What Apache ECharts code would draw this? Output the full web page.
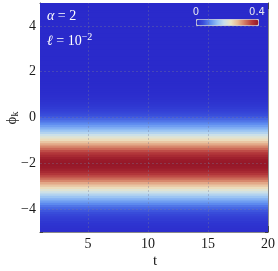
<!DOCTYPE html>
<html>
<head>
<meta charset="utf-8">
<script src="https://cdn.jsdelivr.net/npm/echarts@6/dist/echarts.min.js"></script>
<style>
html,body{margin:0;padding:0;background:#fff;}
#c{width:278px;height:271px;}
</style>
</head>
<body>
<div id="c"></div>
<script>
// ---- data ----
const tRange = [1, 20];
const phi = [-4.95,-4.85,-4.75,-4.65,-4.55,-4.45,-4.35,-4.25,-4.15,-4.05,
  -3.95,-3.85,-3.75,-3.65,-3.55,-3.45,-3.35,-3.25,-3.15,-3.05,
  -2.95,-2.85,-2.75,-2.65,-2.55,-2.45,-2.35,-2.25,-2.15,-2.05,
  -1.95,-1.85,-1.75,-1.65,-1.55,-1.45,-1.35,-1.25,-1.15,-1.05,
  -0.95,-0.85,-0.75,-0.65,-0.55,-0.45,-0.35,-0.25,-0.15,-0.05,
  0.05,0.15,0.25,0.35,0.45,0.55,0.65,0.75,0.85,0.95,
  1.05,1.15,1.25,1.35,1.45,1.55,1.65,1.75,1.85,1.95,
  2.05,2.15,2.25,2.35,2.45,2.55,2.65,2.75,2.85,2.95,
  3.05,3.15,3.25,3.35,3.45,3.55,3.65,3.75,3.85,3.95,
  4.05,4.15,4.25,4.35,4.45,4.55,4.65,4.75,4.85,4.95];
const density = [0.005,0.007,0.009,0.012,0.015,0.020,0.025,0.032,0.040,0.049,
  0.060,0.072,0.086,0.102,0.120,0.139,0.160,0.183,0.206,0.230,
  0.254,0.278,0.301,0.323,0.343,0.361,0.375,0.387,0.395,0.398,
  0.398,0.395,0.387,0.375,0.361,0.343,0.323,0.301,0.278,0.254,
  0.230,0.206,0.183,0.160,0.139,0.120,0.102,0.086,0.072,0.060,
  0.049,0.040,0.032,0.025,0.020,0.015,0.012,0.009,0.007,0.005,
  0.004,0.003,0.002,0.0015,0.001,0.0007,0.0005,0.0003,0.0002,0.0001,
  0,0,0,0,0,0,0,0,0,0,
  0,0,0,0,0,0,0,0,0,0,
  0,0,0,0,0,0,0,0,0,0];
const colorRange = [0, 0.4];
const xMajor = [5, 10, 15, 20];
const xMinor = [1,2,3,4,5,6,7,8,9,10,11,12,13,14,15,16,17,18,19,20];
const yMajor = [-4, -2, 0, 2, 4];
const yMinor = [-5,-4.5,-4,-3.5,-3,-2.5,-2,-1.5,-1,-0.5,0,0.5,1,1.5,2,2.5,3,3.5,4,4.5,5];
const xGrid = [5, 10, 15];
const yGrid = [-4, -2, 0, 2, 4];

// ---- chart ----
const chart = echarts.init(document.getElementById('c'), null, {renderer: 'canvas'});
const bandHalf = (phi[1] - phi[0]) / 2;
const serif = 'Liberation Serif';
const fmtNum = v => (v < 0 ? '\u2212' + (-v) : String(v));

function xAx(pos, ticks, len, labels) {
  return {
    type: 'value', min: tRange[0], max: tRange[1], position: pos, gridIndex: 0,
    axisLine: {show: true, onZero: false, lineStyle: {color: '#8a8a8a', width: 1}},
    axisTick: {show: true, inside: true, length: len, customValues: ticks, lineStyle: {color: '#444', width: 1}},
    axisLabel: labels ? {show: true, customValues: ticks, margin: 5, color: '#1a1a1a', fontFamily: serif, fontSize: 14, formatter: fmtNum}
                      : {show: false},
    splitLine: {show: false}
  };
}
function yAx(pos, ticks, len, labels) {
  return {
    type: 'value', min: -5, max: 5, position: pos, gridIndex: 0,
    axisLine: {show: true, onZero: false, lineStyle: {color: '#8a8a8a', width: 1}},
    axisTick: {show: true, inside: true, length: len, customValues: ticks, lineStyle: {color: '#444', width: 1}},
    axisLabel: labels ? {show: true, customValues: ticks, margin: 4, color: '#1a1a1a', fontFamily: serif, fontSize: 14, formatter: fmtNum}
                      : {show: false},
    splitLine: {show: false}
  };
}

const option = {
  animation: false,
  backgroundColor: '#fff',
  grid: {left: 40, top: 3, width: 229, height: 229},
  xAxis: [
    xAx('bottom', xMajor, 6, true),
    xAx('bottom', xMinor, 3, false),
    xAx('top', xMajor, 6, false),
    xAx('top', xMinor, 3, false)
  ],
  yAxis: [
    yAx('left', yMajor, 6, true),
    yAx('left', yMinor, 3, false),
    yAx('right', yMajor, 6, false),
    yAx('right', yMinor, 3, false)
  ],
  visualMap: {
    type: 'continuous', show: true, dimension: 3,
    min: colorRange[0], max: colorRange[1],
    orient: 'horizontal', left: 196, top: 19,
    itemWidth: 6, itemHeight: 62, calculable: false, text: null,
    padding: 0, borderColor: '#c8c8d8', borderWidth: 1,
    showLabel: false,
    inRange: {color: ['#2a2acb','#3a50dc','#5f8ef0','#94c0f4','#c8e0ec','#ece4c4','#e8b894','#d27a62','#b63a3c','#951628']}
  },
  series: [{
    type: 'custom',
    coordinateSystem: 'cartesian2d',
    xAxisIndex: 0, yAxisIndex: 0,
    clip: true,
    encode: {x: [0, 1], y: 2},
    data: phi.map((p, i) => [tRange[0], tRange[1], p, density[i]]),
    renderItem: function (params, api) {
      const a = api.coord([api.value(0), api.value(2) + bandHalf]);
      const b = api.coord([api.value(1), api.value(2) - bandHalf]);
      return {
        type: 'rect',
        shape: {x: a[0], y: a[1] - 0.5, width: b[0] - a[0], height: b[1] - a[1] + 1},
        style: {fill: api.visual('color')}
      };
    },
    markLine: {
      silent: true, symbol: 'none', animation: false,
      label: {show: false},
      lineStyle: {color: 'rgba(120,120,150,0.45)', width: 0.8, type: [2, 2]},
      data: xGrid.map(v => ({xAxis: v})).concat(yGrid.map(v => ({yAxis: v})))
    }
  }],
  graphic: [
    {type: 'text', left: 47, top: 9, z: 100, style: {
      text: '{i|\u03b1} = 2', fill: '#fff', font: '14px "Liberation Serif"',
      rich: {i: {fontStyle: 'italic', fontFamily: serif, fontSize: 14, fill: '#fff'}}}},
    {type: 'text', left: 47, top: 32, z: 100, style: {
      text: '{i|\u2113} = 10{s|\u22122}', fill: '#fff', font: '14px "Liberation Serif"',
      rich: {i: {fontStyle: 'italic', fontFamily: serif, fontSize: 14, fill: '#fff'},
             s: {fontFamily: serif, fontSize: 10, fill: '#fff', verticalAlign: 'top', padding: [0, 0, 8, 0]}}}},
    {type: 'text', x: 196, y: 12, z: 100, style: {
      text: '0', fill: '#e6e6f0', font: '10px "DejaVu Sans"', align: 'center', verticalAlign: 'middle'}},
    {type: 'text', x: 257, y: 12, z: 100, style: {
      text: '0.4', fill: '#e6e6f0', font: '10px "DejaVu Sans"', align: 'center', verticalAlign: 'middle'}},
    {type: 'text', x: 155, y: 261, z: 100, style: {
      text: 't', fill: '#1a1a1a', font: '15px "Liberation Serif"', align: 'center', verticalAlign: 'middle'}},
    {type: 'text', x: 12, y: 118, rotation: Math.PI / 2, z: 100, style: {
      text: '\u03d5{s|k}', fill: '#1a1a1a', font: '15px "Liberation Serif"', align: 'center', verticalAlign: 'middle',
      rich: {s: {fontFamily: serif, fontSize: 10, fill: '#1a1a1a', padding: [6, 0, 0, 0]}}}}
  ]
};
chart.setOption(option);
</script>
</body>
</html>
